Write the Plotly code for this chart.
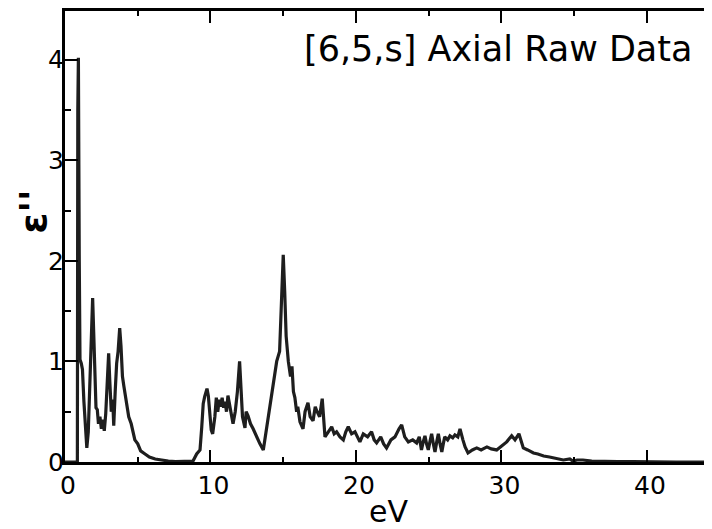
import plotly.graph_objects as go

energy_ev = [0.0, 0.85, 0.88, 0.92, 0.98, 1.03, 1.12, 1.2, 1.3, 1.42, 1.5, 1.6, 1.72, 1.82, 1.9, 1.97, 2.05, 2.13,
             2.22, 2.3, 2.4, 2.5, 2.6, 2.7, 2.8, 2.9, 3.0, 3.08, 3.18, 3.28, 3.35, 3.45, 3.55, 3.65, 3.76, 3.85,
             3.95, 4.05, 4.2, 4.38, 4.55, 4.8, 5.0, 5.2, 5.5, 5.8, 6.2, 6.6, 7.1, 7.6, 8.2, 8.8, 9.05, 9.28, 9.4,
             9.5, 9.6, 9.76, 9.85, 9.95, 10.05, 10.15, 10.3, 10.4, 10.5, 10.6, 10.7, 10.8, 10.9, 11.0, 11.1, 11.2,
             11.34, 11.45, 11.55, 11.7, 11.85, 12.0, 12.1, 12.2, 12.37, 12.45, 12.58, 12.75, 12.93, 13.17, 13.4,
             13.63, 13.85, 14.1, 14.3, 14.55, 14.75, 14.9, 15.0, 15.1, 15.2, 15.35, 15.5, 15.6, 15.7, 15.8, 15.92,
             16.0, 16.15, 16.36, 16.5, 16.7, 16.85, 17.05, 17.2, 17.3, 17.5, 17.68, 17.87, 18.1, 18.33, 18.5,
             18.67, 18.9, 19.13, 19.3, 19.47, 19.7, 19.93, 20.1, 20.27, 20.5, 20.8, 21.07, 21.25, 21.42, 21.7,
             21.9, 22.1, 22.4, 22.68, 22.96, 23.14, 23.35, 23.6, 23.9, 24.17, 24.35, 24.5, 24.62, 24.74, 24.85,
             24.97, 25.08, 25.2, 25.32, 25.43, 25.55, 25.66, 25.78, 25.9, 26.0, 26.1, 26.3, 26.46, 26.65, 26.8,
             27.0, 27.15, 27.35, 27.5, 27.7, 28.0, 28.3, 28.6, 29.0, 29.3, 29.67, 30.0, 30.36, 30.7, 30.93, 31.2,
             31.35, 31.5, 31.8, 32.2, 32.5, 32.9, 33.3, 33.6, 33.9, 34.25, 34.7, 34.9, 35.2, 35.6, 36.2, 37.0,
             38.0, 39.0, 40.0, 41.0, 42.0, 43.0, 44.0, 45.0]

eps2 = [0.0, 0.0, 3.5, 4.02, 2.0, 1.02, 0.98, 0.92, 0.6, 0.25, 0.14, 0.3, 0.9, 1.45, 1.63, 1.3, 0.8, 0.54,
        0.52, 0.38, 0.45, 0.33, 0.42, 0.31, 0.48, 0.85, 1.08, 0.8, 0.5, 0.62, 0.36, 0.7, 0.98, 1.1, 1.33, 1.15,
        0.85, 0.75, 0.6, 0.45, 0.38, 0.22, 0.18, 0.11, 0.08, 0.05, 0.03, 0.02, 0.01, 0.005, 0.005, 0.01, 0.08,
        0.12, 0.35, 0.58, 0.65, 0.73, 0.66, 0.45, 0.32, 0.28, 0.45, 0.64, 0.5, 0.62, 0.55, 0.64, 0.54, 0.6,
        0.5, 0.66, 0.55, 0.48, 0.38, 0.5, 0.7, 1.0, 0.75, 0.45, 0.34, 0.5, 0.46, 0.38, 0.33, 0.25, 0.18, 0.12,
        0.32, 0.58, 0.75, 1.0, 1.1, 1.6, 2.06, 1.7, 1.25, 1.0, 0.85, 0.95, 0.7, 0.64, 0.5, 0.55, 0.4, 0.33,
        0.5, 0.59, 0.45, 0.41, 0.55, 0.51, 0.45, 0.63, 0.25, 0.3, 0.35, 0.28, 0.3, 0.25, 0.22, 0.3, 0.35,
        0.28, 0.3, 0.25, 0.2, 0.28, 0.25, 0.3, 0.22, 0.19, 0.25, 0.18, 0.14, 0.22, 0.25, 0.33, 0.37, 0.25,
        0.2, 0.22, 0.19, 0.25, 0.12, 0.2, 0.26, 0.18, 0.12, 0.2, 0.28, 0.18, 0.1, 0.2, 0.28, 0.18, 0.1, 0.18,
        0.25, 0.22, 0.26, 0.24, 0.27, 0.25, 0.33, 0.22, 0.15, 0.09, 0.12, 0.14, 0.12, 0.15, 0.13, 0.12, 0.16,
        0.2, 0.26, 0.22, 0.28, 0.2, 0.14, 0.12, 0.09, 0.08, 0.06, 0.05, 0.04, 0.03, 0.02, 0.03, 0.01, 0.02,
        0.02, 0.01, 0.005, 0.005, 0.003, 0.0, 0.0, 0.0, 0.0, 0.0, 0.0]

x_tick_vals = [0, 10, 20, 30, 40]
y_tick_vals = [0, 1, 2, 3, 4]
label_text = "[6,5,s] Axial Raw Data"

FONT = "DejaVu Sans"

fig = go.Figure()
fig.add_trace(go.Scatter(x=energy_ev, y=eps2, mode="lines",
                         line=dict(color="#1e1e1e", width=3.2), showlegend=False))
# invisible trace for the right-side tick axis
fig.add_trace(go.Scatter(x=[0], y=[0], yaxis="y2", mode="lines",
                         line=dict(width=0), showlegend=False, hoverinfo="skip"))

fig.update_layout(
    width=704, height=521,
    margin=dict(l=57, r=0, t=0, b=67),
    paper_bgcolor="white", plot_bgcolor="white",
    font=dict(family=FONT, color="black", size=24),
    xaxis=dict(range=[0, 44.47], tickvals=x_tick_vals, ticks="inside", ticklen=12, tickwidth=2,
               tickcolor="black", showline=True, linewidth=3, linecolor="black", mirror="ticks",
               showgrid=False, zeroline=False, tickfont=dict(size=25, family=FONT),
               ticklabelstandoff=-1, ticklabelshift=3,
               minor=dict(dtick=5, ticks="inside", ticklen=5, tickwidth=2, tickcolor="black", showgrid=False),
               title=dict(text="eV", font=dict(size=30, family=FONT), standoff=4)),
    yaxis=dict(range=[0, 4.484], tickvals=y_tick_vals, ticks="inside", ticklen=13, tickwidth=2,
               tickcolor="black", showline=True, linewidth=3, linecolor="black", mirror=False,
               showgrid=False, zeroline=False, tickfont=dict(size=25, family=FONT),
               ticklabelstandoff=-7,
               minor=dict(dtick=0.5, ticks="inside", ticklen=6, tickwidth=2, tickcolor="black", showgrid=False)),
    yaxis2=dict(range=[0, 4.484], overlaying="y", side="right", anchor="x", tickvals=[1, 2, 3, 4],
                ticks="inside", ticklen=7, tickwidth=2, tickcolor="black", showticklabels=False,
                showline=False, showgrid=False, zeroline=False),
    annotations=[
        dict(text=label_text, xref="paper", yref="paper", x=0.972, y=0.916, xanchor="right",
             yanchor="middle", showarrow=False, font=dict(size=35, family=FONT, color="black")),
        dict(text="<b>ε''</b>", xref="paper", yref="paper", x=0, y=0.555, xshift=-32, textangle=-90,
             xanchor="center", yanchor="middle", showarrow=False, borderpad=0,
             font=dict(size=38, family=FONT, color="black")),
    ],
)

fig.write_html("out.html")
